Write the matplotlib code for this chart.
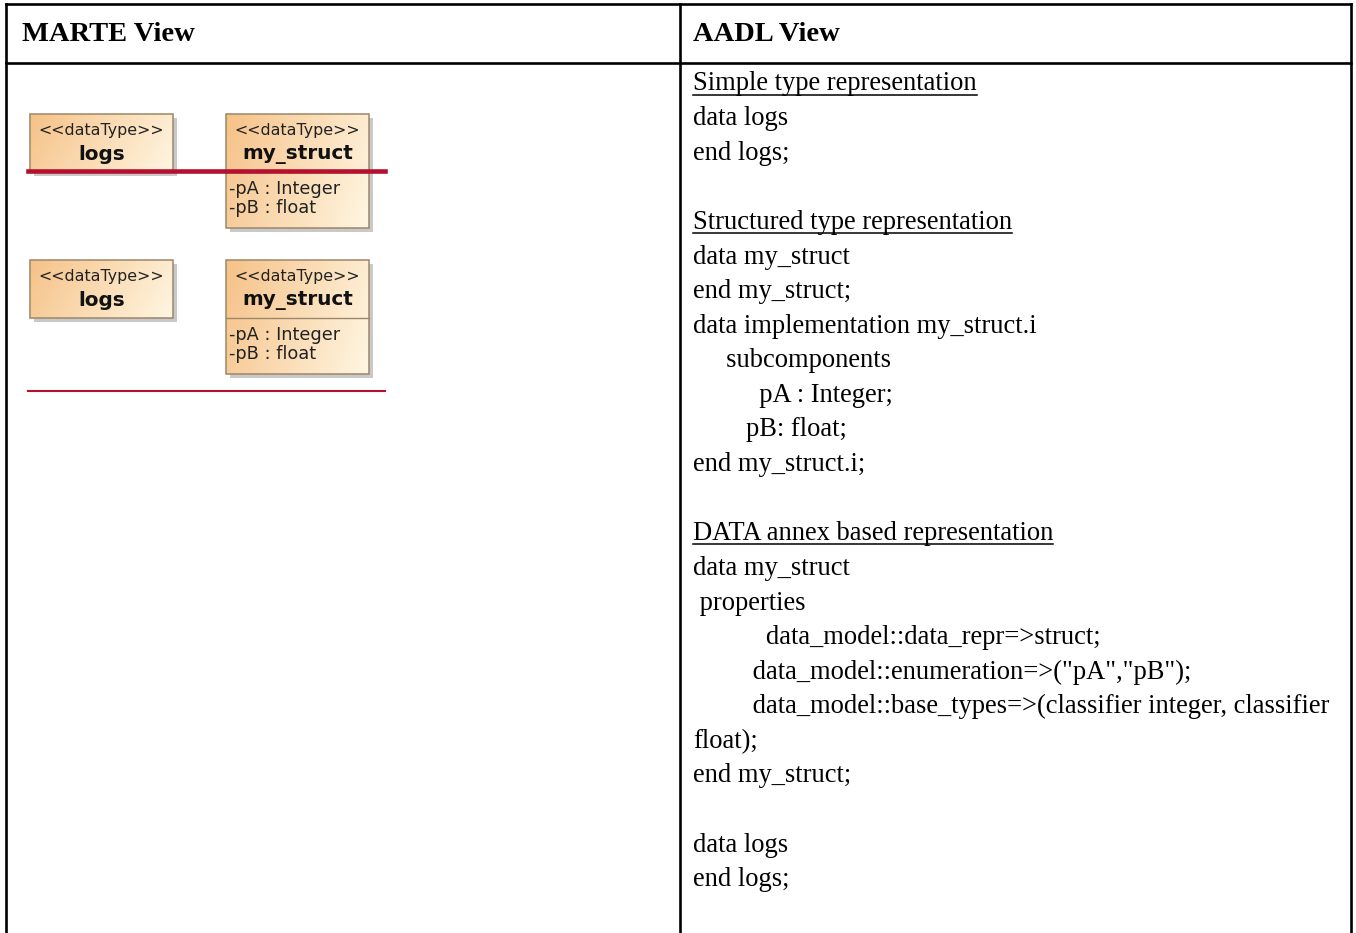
import matplotlib.pyplot as plt
import numpy as np
from matplotlib.patches import Rectangle
from matplotlib.colors import to_rgb

# table header
header_titles = ["MARTE View", "AADL View"]

# MARTE side: two dataType classes, drawn twice
class_stereotype = "<<dataType>>"
class_names = ["logs", "my_struct"]
class_attributes = [[], ["-pA : Integer", "-pB : float"]]

# AADL side, one entry per printed line (leading blanks = indentation)
aadl_lines = [
    "Simple type representation",
    "data logs",
    "end logs;",
    "",
    "Structured type representation",
    "data my_struct",
    "end my_struct;",
    "data implementation my_struct.i",
    "     subcomponents",
    "          pA : Integer;",
    "        pB: float;",
    "end my_struct.i;",
    "",
    "DATA annex based representation",
    "data my_struct",
    " properties",
    "           data_model::data_repr=>struct;",
    "         data_model::enumeration=>(\"pA\",\"pB\");",
    "         data_model::base_types=>(classifier integer, classifier",
    "float);",
    "end my_struct;",
    "",
    "data logs",
    "end logs;",
]
aadl_headings = [
    "Simple type representation",
    "Structured type representation",
    "DATA annex based representation",
]

W, H = 1356, 933
fig = plt.figure(figsize=(W / 100, H / 100), dpi=100)
ax = fig.add_axes([0, 0, 1, 1])
ax.set_axis_off()

# table grid (no bottom rule, the page cuts it off)
grid_kw = dict(color="black", lw=1.9, solid_capstyle="projecting")
col_x = [6, 680, 1351]
top_y, head_y = 4, 63
ax.plot([col_x[0], col_x[2]], [top_y, top_y], **grid_kw)
ax.plot([col_x[0], col_x[2]], [head_y, head_y], **grid_kw)
for x in col_x:
    ax.plot([x, x], [top_y, H + 5], **grid_kw)

serif = "Liberation Serif"
for title, x in zip(header_titles, [22, 693]):
    ax.text(x, 41, title, fontsize=20.5, fontweight="bold", family=serif,
            va="baseline", ha="left")

# --- MARTE class boxes ---
c_left = np.array(to_rgb("#f6c288"))
c_right = np.array(to_rgb("#fff6e2"))
gx = np.linspace(0, 1, 80)
gy = np.linspace(0, 1, 40)
t = np.clip(0.8 * gx[None, :] + 0.2 * gy[:, None], 0, 1)[..., None]
gradient = c_left * (1 - t) + c_right * t

border = "#9c8768"
box_x = [30, 226]
box_w = 143
row_top = [114, 260]
name_h = 58
attr_h = 56

for top in row_top:
    for bx, name, attrs in zip(box_x, class_names, class_attributes):
        h = name_h + (attr_h if attrs else 0)
        ax.add_patch(Rectangle((bx + 4, top + 4), box_w, h,
                               facecolor="#c9c9c9", edgecolor="none", zorder=1))
        ax.imshow(gradient, extent=(bx, bx + box_w, top + h, top),
                  origin="upper", aspect="auto", zorder=2, interpolation="bilinear")
        ax.add_patch(Rectangle((bx, top), box_w, h, facecolor="none",
                               edgecolor=border, lw=1.1, zorder=3))
        cx = bx + box_w / 2
        ax.text(cx, top + 16, class_stereotype, fontsize=11.4, family="DejaVu Sans",
                color="#222222", ha="center", va="center", zorder=4)
        ax.text(cx, top + 40, name, fontsize=14.4, family="DejaVu Sans",
                fontweight="bold", color="#111111", ha="center", va="center",
                zorder=4)
        if attrs:
            ax.plot([bx, bx + box_w], [top + name_h, top + name_h],
                    color=border, lw=1.0, zorder=3)
            for i, a in enumerate(attrs):
                ax.text(bx + 3, top + name_h + 17 + 19 * i, a, fontsize=12.8,
                        family="DejaVu Sans", color="#222222", ha="left",
                        va="center", zorder=4)

# red rules across the class diagrams
red = "#b5102f"
ax.plot([28, 385], [171, 171], color=red, lw=3.3, zorder=5)
ax.plot([28, 385], [391, 391], color=red, lw=1.5, zorder=5)

# --- AADL listing ---
x0, base0, step = 693, 90.5, 34.6
heading_texts = []
for i, line in enumerate(aadl_lines):
    if not line:
        continue
    txt = ax.text(x0, base0 + i * step, line, fontsize=19.1, family=serif,
                  va="baseline", ha="left")
    if line in aadl_headings:
        heading_texts.append((txt, base0 + i * step))

ax.set_xlim(0, W)
ax.set_ylim(H, 0)

fig.canvas.draw()
renderer = fig.canvas.get_renderer()
inv = ax.transData.inverted()
for txt, base in heading_texts:
    bb = txt.get_window_extent(renderer)
    (xa, _), (xb, _) = inv.transform([[bb.x0, bb.y0], [bb.x1, bb.y0]])
    ax.plot([xa, xb], [base + 4, base + 4], color="black", lw=1.1)

ax.set_xlim(0, W)
ax.set_ylim(H, 0)
fig.savefig("out.png", dpi=100)
